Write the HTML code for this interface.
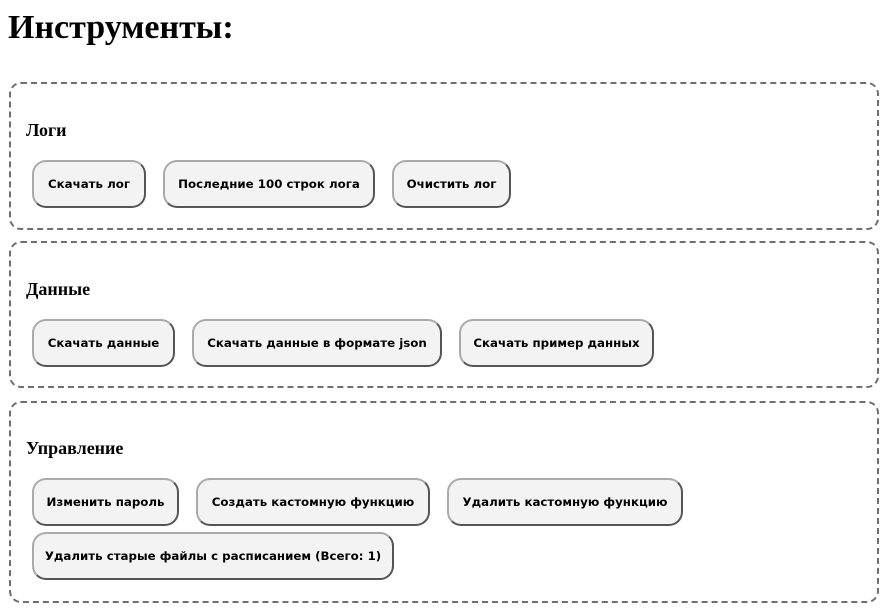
<!DOCTYPE html>
<html><head><meta charset="utf-8"><style>
body{margin:0;width:890px;height:616px;background:#fff;position:relative;overflow:hidden;font-family:"Liberation Serif",serif}
h1{position:absolute;left:8px;top:7px;margin:0;font-size:34px;line-height:42px;font-weight:bold}
.box{position:absolute;left:9px;width:866px;border:2px dashed #6f6f6f;border-radius:12px}
h3{position:absolute;left:26px;margin:0;font-size:18px;line-height:20px;font-weight:bold}
.b{position:absolute;box-sizing:border-box;height:48px;border:2px solid;border-color:#aaa #555 #555 #aaa;border-radius:14px;background:#f3f3f3;font-family:"DejaVu Sans",Verdana,sans-serif;font-weight:bold;font-size:11.8px;display:flex;align-items:center;justify-content:center;white-space:nowrap;color:#000}
</style></head><body>
<h1>Инструменты:</h1>
<div class="box" style="top:82px;height:144px"></div>
<div class="box" style="top:241px;height:143px"></div>
<div class="box" style="top:401px;height:198px"></div>
<h3 style="top:120px">Логи</h3>
<h3 style="top:279px">Данные</h3>
<h3 style="top:438px">Управление</h3>
<div class="b" style="left:32px;top:160px;width:114px">Скачать лог</div>
<div class="b" style="left:163px;top:160px;width:212px">Последние 100 строк лога</div>
<div class="b" style="left:392px;top:160px;width:119px">Очистить лог</div>
<div class="b" style="left:32px;top:319px;width:143px">Скачать данные</div>
<div class="b" style="left:192px;top:319px;width:250px">Скачать данные в формате json</div>
<div class="b" style="left:459px;top:319px;width:195px">Скачать пример данных</div>
<div class="b" style="left:32px;top:478px;width:147px">Изменить пароль</div>
<div class="b" style="left:196px;top:478px;width:234px">Создать кастомную функцию</div>
<div class="b" style="left:447px;top:478px;width:236px">Удалить кастомную функцию</div>
<div class="b" style="left:32px;top:532px;width:362px">Удалить старые файлы с расписанием (Всего: 1)</div>
</body></html>
